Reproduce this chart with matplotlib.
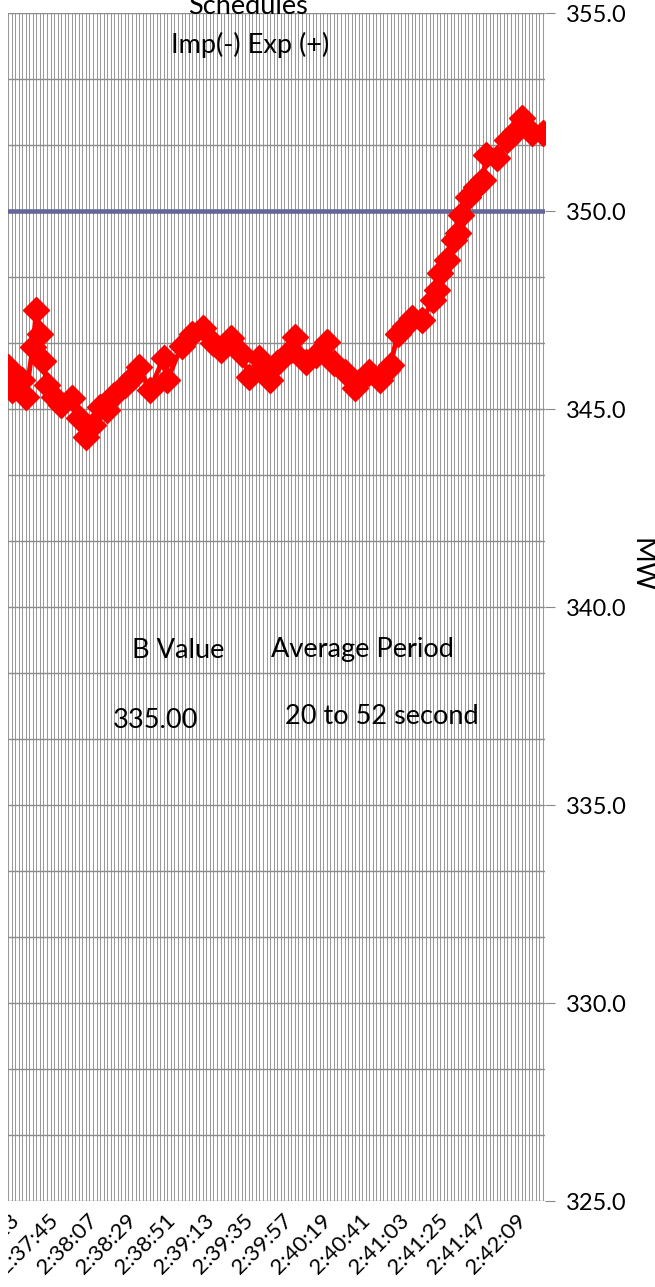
import numpy as np
import matplotlib
matplotlib.use("Agg")
import matplotlib.pyplot as plt
from matplotlib.transforms import Bbox, ScaledTranslation

plt.rcParams['font.family'] = ['Lato', 'DejaVu Sans']

# seconds relative to 2:37:45, MW readings
secs = [-24, -22, -16, -14, -10, -8, -6, -4, -2, 2, 6, 12, 16, 20, 24, 28, 32, 36,
        42, 46, 50, 56, 64, 66, 74, 80, 86, 92, 96, 102, 108, 112, 118, 120, 124,
        128, 136, 138, 144, 150, 156, 160, 166, 172, 174, 180, 186, 190, 192, 196,
        200, 204, 210, 216, 218, 220, 224, 228, 230, 232, 236, 240, 244, 246, 252,
        258, 262, 266, 272, 278]
mw = [346.06, 345.48, 345.73, 345.30, 346.57, 347.50, 346.90, 346.20, 345.60,
      345.30, 345.10, 345.28, 344.77, 344.30, 344.60, 345.05, 344.97, 345.35,
      345.60, 345.78, 346.06, 345.48, 346.30, 345.73, 346.60, 346.90, 347.05,
      346.67, 346.50, 346.80, 346.40, 345.80, 346.30, 346.06, 345.73, 346.16,
      346.50, 346.82, 346.19, 346.36, 346.70, 346.16, 345.93, 345.53, 345.68,
      345.93, 345.73, 345.98, 346.10, 346.90, 347.10, 347.30, 347.25, 347.75,
      348.00, 348.43, 348.76, 349.27, 349.44, 349.90, 350.35, 350.60, 350.78,
      351.41, 351.34, 351.80, 352.00, 352.35, 351.97, 351.97]
schedule = 350.0
tick_labels = ["2:37:23", "2:37:45", "2:38:07", "2:38:29", "2:38:51", "2:39:13",
               "2:39:35", "2:39:57", "2:40:19", "2:40:41", "2:41:03", "2:41:25",
               "2:41:47", "2:42:09"]


def to_sec(s):
    h, m, sec = (int(p) for p in s.split(":"))
    return h * 3600 + m * 60 + sec - (2 * 3600 + 37 * 60 + 45)


W, H = 655, 1287
fig = plt.figure(figsize=(W / 100, H / 100), dpi=100)
ax = fig.add_axes([8 / W, (H - 1201) / H, (545 - 8) / W, (1201 - 13) / H])

ax.set_xlim(-23.7, 279.2)
ax.set_ylim(325, 355)

# grid
ax.set_xticks(np.arange(-24, 280, 2), minor=True)
ax.set_xticks([to_sec(t) for t in tick_labels])
ax.set_xticklabels(tick_labels, rotation=45, ha='right', va='center',
                   rotation_mode='anchor', fontsize=16)
ax.set_yticks(np.arange(325, 355.01, 5 / 3), minor=True)
ax.set_yticks(np.arange(325, 355.01, 5))
ax.set_yticklabels([f"{v:.1f}" for v in np.arange(325, 355.01, 5)], fontsize=17)
ax.grid(which='both', axis='x', color='#9a9a9a', lw=0.75)
ax.grid(which='both', axis='y', color='#8c8c8c', lw=1.0)
ax.set_axisbelow(True)

ax.yaxis.tick_right()
ax.tick_params(axis='y', which='major', length=7, color='#888888', pad=8)
ax.tick_params(axis='y', which='minor', length=0)
ax.tick_params(axis='x', which='both', length=0, pad=12)
for sp in ax.spines.values():
    sp.set_visible(False)

# nudge rotated labels right and clip them at the chart's left edge
shift = ScaledTranslation(5 / 100, 0, fig.dpi_scale_trans)
clip = Bbox.from_extents(8, 0, W, H)
for lab in ax.get_xticklabels():
    lab.set_transform(lab.get_transform() + shift)
    lab.set_clip_box(clip)
    lab.set_clip_on(True)

ax.axhline(schedule, color='#666699', lw=3.3, zorder=2)
ax.plot(secs, mw, color='red', lw=3.5, marker='D', markersize=13,
        markeredgecolor='red', zorder=3)

fs = 19.5
fig.text(248 / W, 1 - 6 / H, "Schedules", ha='center', va='center', fontsize=fs)
fig.text(250 / W, 1 - 45 / H, "Imp(-) Exp (+)", ha='center', va='center', fontsize=fs)
fig.text(178 / W, 1 - 650 / H, "B Value", ha='center', va='center', fontsize=fs)
fig.text(362 / W, 1 - 650 / H, "Average Period", ha='center', va='center', fontsize=fs)
fig.text(155 / W, 1 - 720 / H, "335.00", ha='center', va='center', fontsize=fs)
fig.text(382 / W, 1 - 717 / H, "20 to 52 second", ha='center', va='center', fontsize=fs)
fig.text(641 / W, 1 - 565 / H, "MW", ha='center', va='center', fontsize=20, rotation=-90)

fig.savefig("out.png", dpi=100)
